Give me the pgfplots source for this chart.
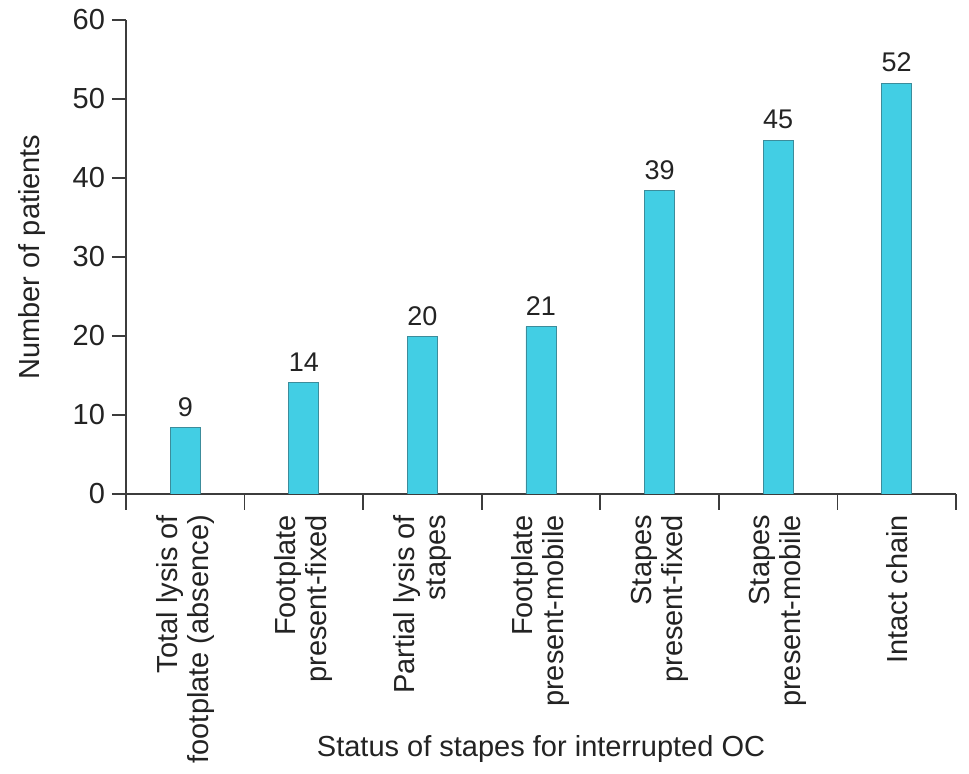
\documentclass[border=0pt]{standalone}
\usepackage{fontspec}
\setmainfont{Liberation Sans}
\usepackage{pgfplots}
\pgfplotsset{compat=1.18}
\definecolor{barfill}{RGB}{66,206,228}
\definecolor{baredge}{RGB}{60,140,155}
\definecolor{axisgray}{RGB}{60,60,60}
\definecolor{txt}{RGB}{35,35,35}

\begin{document}
\begin{tikzpicture}
\begin{axis}[
    scale only axis,
    width=415pt, height=237pt,
    xmin=-0.5, xmax=6.5,
    ymin=0, ymax=60,
    axis lines*=left,
    axis line style={axisgray, line width=0.9pt},
    ytick={0,10,...,60},
    xtick={0,...,6},
    xticklabels={
        {Total lysis of\\footplate (absence)},
        {Footplate\\present-fixed},
        {Partial lysis of\\stapes},
        {Footplate\\present-mobile},
        {Stapes\\present-fixed},
        {Stapes\\present-mobile},
        {Intact chain}
    },
    minor xtick={-0.5,0.5,...,6.5},
    tick align=outside,
    major tick length=7pt,
    minor tick length=8pt,
    tick style={axisgray, line width=0.9pt},
    major x tick style={draw=none},
    /pgf/number format/assume math mode=true,
    tick label style={font=\fontsize{14.5}{15.5}\selectfont, text=txt},
    xticklabel style={rotate=90, anchor=east, align=right},
    label style={font=\fontsize{14.5}{15.5}\selectfont, text=txt},
    xlabel={Status of stapes for interrupted OC},
    xlabel style={at={(axis description cs:0.5,0)}, anchor=base, yshift=-131.5pt},
    ylabel={Number of patients},
    ylabel style={at={(axis description cs:0,0.5)}, anchor=center, yshift=47pt},
    ybar,
    bar width=15pt,
    nodes near coords,
    point meta=explicit symbolic,
    every node near coord/.append style={font=\fontsize{13.5}{14}\selectfont, text=txt, yshift=2pt},
]
\addplot[fill=barfill, draw=baredge, line width=0.4pt] coordinates {
    (0,8.4) [9]
    (1,14.1) [14]
    (2,19.9) [20]
    (3,21.2) [21]
    (4,38.4) [39]
    (5,44.8) [45]
    (6,52.0) [52]
};
\coordinate (O) at (axis cs:-0.5,0);
\end{axis}
\pgfresetboundingbox
\path[use as bounding box] ([shift={(-63pt,-140pt)}]O) rectangle ([shift={(421.5pt,247pt)}]O);
\end{tikzpicture}
\end{document}
